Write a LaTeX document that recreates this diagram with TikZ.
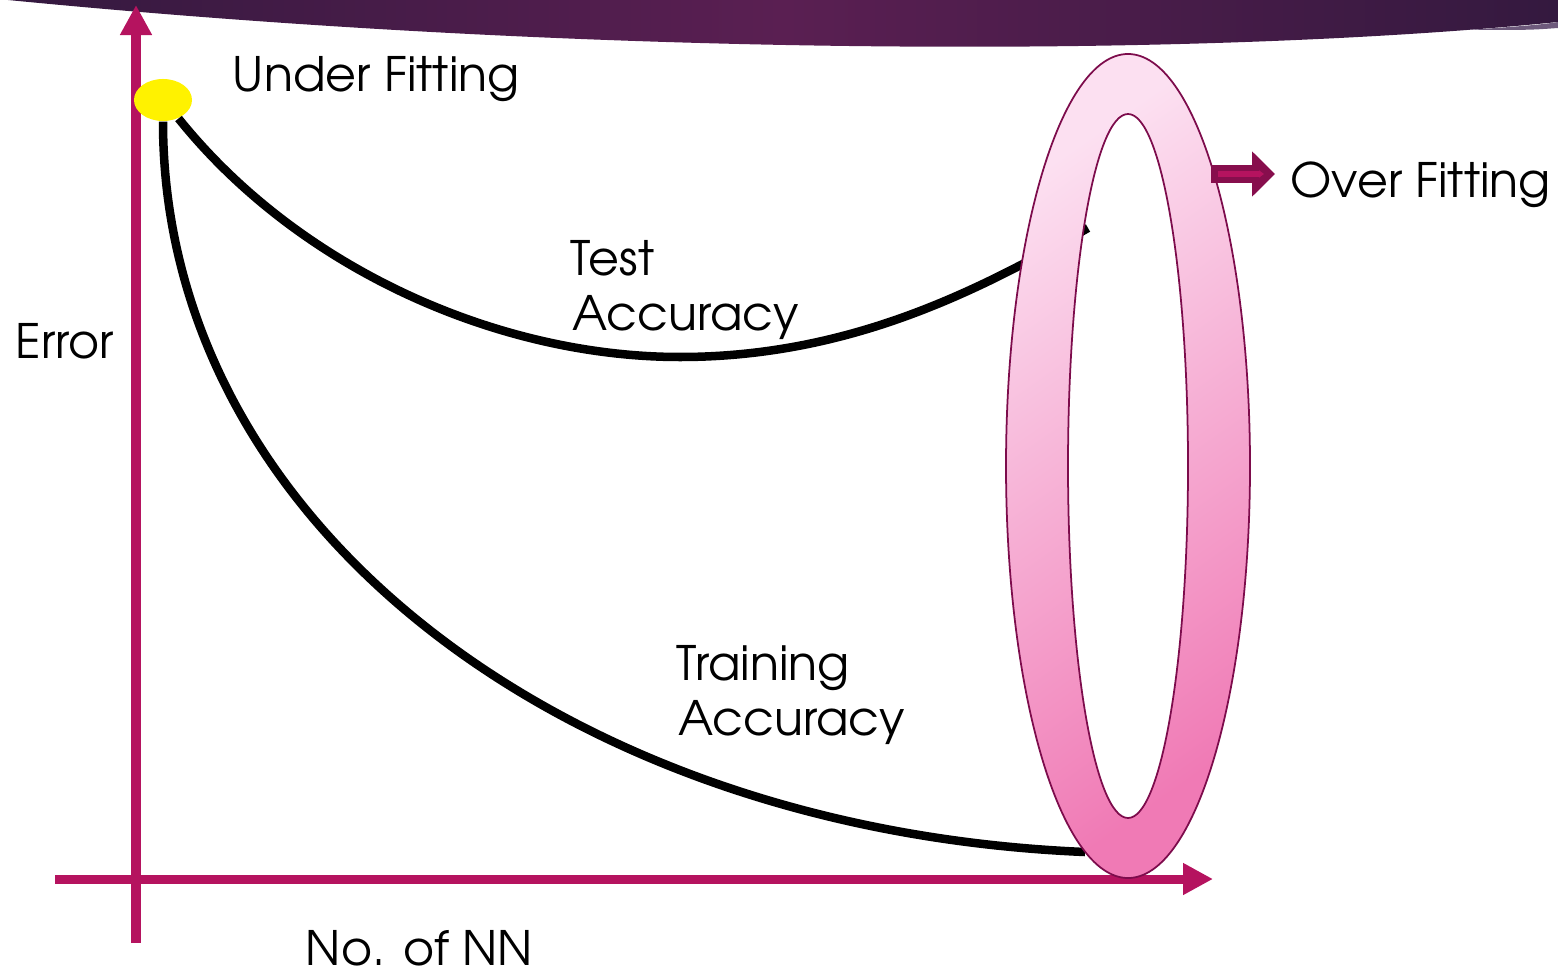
\documentclass[tikz,border=0pt]{standalone}
\usepackage{fontspec}
\setmainfont{texgyreadventor-regular.otf}
\usetikzlibrary{arrows.meta,shapes.geometric}
\definecolor{bandmid}{HTML}{5A1F52}
\definecolor{bandside}{HTML}{34193F}
\definecolor{bandpale}{HTML}{6E5A7C}
\definecolor{axismag}{HTML}{B5135F}
\definecolor{ringlight}{HTML}{FCE0F1}
\definecolor{ringdark}{HTML}{F07AB5}
\definecolor{ringline}{HTML}{7D0C4C}
\definecolor{ofdark}{HTML}{870E4D}
\tikzset{
  axisline/.style={axismag,line width=0.09cm,-{Triangle[length=0.3cm,width=0.3cm]}},
  curve/.style={black,line width=0.085cm},
  lbl/.style={inner sep=0pt,anchor=base west,font=\fontsize{13.5pt}{16pt}\selectfont},
  ufdot/.style={ellipse,fill=yellow,minimum width=0.58cm,minimum height=0.42cm,inner sep=0pt}
}

\begin{document}
\begin{tikzpicture}[x=0.01cm,y=-0.01cm]
  \useasboundingbox (0,0) rectangle (1558,970);
  % title band
  \shade[left color=bandside,right color=bandside,middle color=bandmid]
    (8,0) -- (1558,0) -- (1558,22) .. controls (1200,58) and (600,58) .. (8,0) -- cycle;
  \fill[bandpale] (1468,30) .. controls (1510,27) and (1540,25) .. (1558,22)
    -- (1558,28) .. controls (1530,30) .. (1468,30) -- cycle;

  % axes
  \coordinate (yb) at (136,943);
  \coordinate (yt) at (136,5);
  \coordinate (xl) at (55,879);
  \coordinate (xr) at (1213,879);
  \draw[axisline] (yb) -- (yt);
  \draw[axisline] (xl) -- (xr);

  % curves
  \node[ufdot] (uf) at (163,100) {};
  \coordinate (testmin) at (680,357);
  \coordinate (testend) at (1088,228);
  \coordinate (trainend) at (1085,852);
  \draw[curve] (uf.-50) .. controls (300,270) and (500,357) .. (testmin)
    .. controls (850,357) and (980,290) .. (testend);
  \draw[curve] (uf.south) .. controls (163,520) and (560,830) .. (trainend);

  % ring
  \coordinate (ring) at (1128,466);
  \shadedraw[draw=ringline,line width=0.5pt,even odd rule,
    top color=ringlight,bottom color=ringdark,shading angle=35]
    (ring) ellipse [x radius=122,y radius=412]
    (ring) ellipse [x radius=60,y radius=352];

  % over fitting arrow
  \coordinate (ofs) at (1211,174);
  \coordinate (oft) at (1275,174);
  \coordinate (ofi) at (1218,174);
  \coordinate (ofj) at (1264,174);
  \draw[ofdark,line width=0.17cm,-{Triangle[length=0.23cm,width=0.44cm]}] (ofs) -- (oft);
  \draw[axismag,line width=0.05cm,-{Triangle[length=0.05cm,width=0.07cm]}] (ofi) -- (ofj);

  % labels
  \node[lbl] (under) at (232,92) {Under Fitting};
  \node[lbl] (over) at (1290,198) {Over Fitting};
  \node[lbl] (test) at (570,275) {Test};
  \node[lbl] (testacc) at (572,330) {Accuracy};
  \node[lbl] (train) at (676,680) {Training};
  \node[lbl] (trainacc) at (678,735) {Accuracy};
  \node[lbl] (err) at (15,358) {Error};
  \node[lbl] (nn) at (305,965) {No. of NN};
\end{tikzpicture}
\end{document}
